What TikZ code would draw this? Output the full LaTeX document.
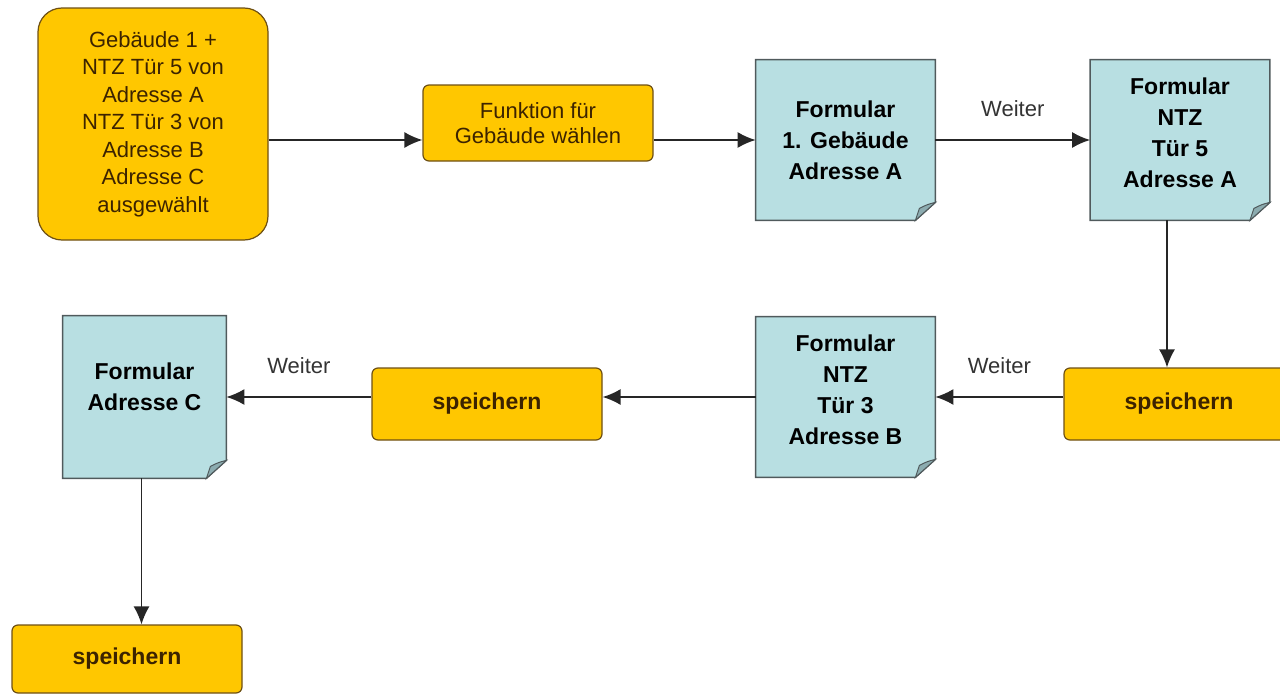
\documentclass[tikz,border=0pt]{standalone}
\usepackage{fontspec}
\setmainfont{Liberation Sans}
\usepackage{tikz}
\usetikzlibrary{arrows.meta,backgrounds}
\definecolor{boxyellow}{RGB}{255,199,0}
\definecolor{boxedge}{RGB}{110,80,20}
\definecolor{boxtext}{RGB}{60,35,0}
\definecolor{sheetblue}{RGB}{184,223,226}
\definecolor{sheetfold}{RGB}{140,172,176}
\definecolor{sheetedge}{RGB}{80,90,92}
\newcommand{\sheet}[1]{%
  \begin{pgfonlayer}{background}
    \filldraw[fill=sheetblue,draw=sheetedge,line width=0.7pt]
      (#1.north west) -- (#1.north east) -- ([yshift=9pt]#1.south east)
      -- ([xshift=-10pt]#1.south east) -- (#1.south west) -- cycle;
    \filldraw[fill=sheetfold,draw=sheetedge,line width=0.5pt]
      ([xshift=-10pt]#1.south east) -- ([xshift=-8pt,yshift=6pt]#1.south east)
      .. controls ([xshift=-4pt,yshift=8pt]#1.south east) .. ([yshift=9pt]#1.south east) -- cycle;
  \end{pgfonlayer}}
\begin{document}
\begin{tikzpicture}[x=0.5pt,y=-0.5pt]%
  \tikzstyle{yelbox}=[rectangle,rounded corners=3pt,fill=boxyellow,draw=boxedge,line width=0.6pt,text=boxtext,align=center,minimum width=115pt]
  \tikzstyle{startn}=[yelbox,rounded corners=12pt,minimum height=116pt,font=\fontsize{11}{13.75}\selectfont]
  \tikzstyle{funkn}=[yelbox,minimum height=38pt,font=\fontsize{11}{12.5}\selectfont]
  \tikzstyle{saven}=[yelbox,minimum height=36pt,font=\fontsize{11.5}{14}\selectfont\bfseries]
  \tikzstyle{sheetn}=[rectangle,inner sep=2pt,minimum width=89.5pt,minimum height=80pt,align=center,font=\fontsize{11.5}{15.5}\selectfont\bfseries]
  \tikzstyle{arr}=[-{Latex[length=9pt,width=8pt]},line width=0.8pt,draw=black!85]
  \tikzstyle{weiter}=[above=8pt,font=\fontsize{11}{13}\selectfont,text=black!80]
  \useasboundingbox (0,0) rectangle (1280,696);
  \clip (0,0) rectangle (1280,696);
  % top row
  \node(start)[startn] at (153,124) {Gebäude 1 +\\NTZ Tür 5 von\\Adresse A\\NTZ Tür 3 von\\Adresse B\\Adresse C\\ausgewählt};
  \node(funk)[funkn] at (538,123) {Funktion für\\Gebäude wählen};
  \node(form1)[sheetn] at (845.5,140) {Formular\\1. Gebäude\\Adresse A};
  \node(ntz5)[sheetn] at (1180,140) {Formular\\NTZ\\Tür 5\\Adresse A\\[-8.5pt]};
  % bottom rows
  \node(saveR)[saven] at (1179,404) {speichern};
  \node(ntz3)[sheetn] at (845.5,397) {Formular\\NTZ\\Tür 3\\Adresse B\\[-8.5pt]};
  \node(saveM)[saven] at (487,404) {speichern};
  \node(formC)[sheetn,minimum width=81.5pt,minimum height=81pt] at (144.5,397) {Formular\\Adresse C\\[-5.5pt]};
  \node(saveB)[saven,minimum height=34pt] at (127,659) {speichern};
  \sheet{form1}
  \sheet{ntz5}
  \sheet{ntz3}
  \sheet{formC}
  % connectors
  \draw[arr] (start.east |- form1) -- (funk.west |- form1);
  \draw[arr] (funk.east |- form1) -- (form1.west);
  \draw[arr] (form1.east) -- node[weiter]{Weiter} (ntz5.west);
  \draw[arr] ([xshift=-6.5pt]ntz5.south) -- ([xshift=-6.5pt]ntz5.south |- saveR.north);
  \draw[arr] (saveR.west |- ntz3) -- node[weiter]{Weiter} (ntz3.east);
  \draw[arr] (ntz3.west) -- (saveM.east |- ntz3);
  \draw[arr] (saveM.west |- formC) -- node[weiter]{Weiter} (formC.east);
  \draw[arr] ([xshift=-1.5pt]formC.south) -- ([xshift=-1.5pt]formC.south |- saveB.north);
\end{tikzpicture}
\end{document}
